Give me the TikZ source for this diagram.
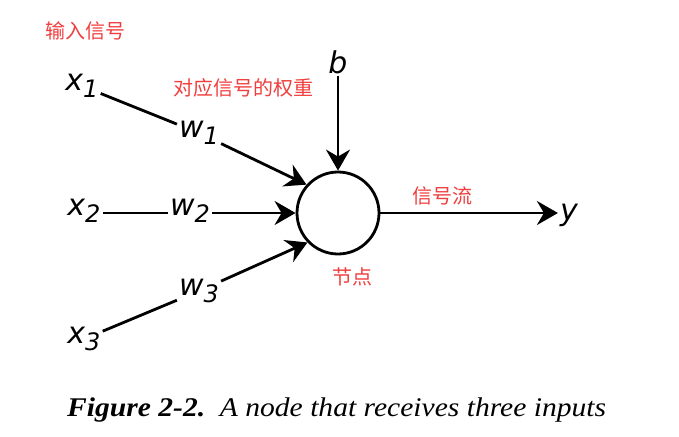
\documentclass[tikz,border=0pt]{standalone}
\usepackage{fontspec}
\setmainfont{Liberation Serif}
\newfontfamily\labfont{DejaVu Sans}
\newfontfamily\cjk{Noto Sans CJK SC}
\usetikzlibrary{arrows.meta}
\definecolor{notered}{RGB}{240,62,62}
\newcommand\lsub[2]{#1\raisebox{-7pt}{\fontsize{24}{26}\selectfont #2}}
\tikzset{
  lab/.style={font=\labfont\itshape\fontsize{30}{32}\selectfont, inner sep=2pt},
  note/.style={font=\cjk\fontsize{20}{22}\selectfont, text=notered, inner sep=0pt},
  conn/.style={line width=2.8pt},
  arr/.style={conn, -{Stealth[length=21pt,width=24pt,inset=7pt]}},
}
\begin{document}
\begin{tikzpicture}[x=1pt,y=-1pt]
\useasboundingbox (0,0) rectangle (679,436);
\node[circle, draw, line width=2.8pt, minimum size=82pt, inner sep=0pt] (c) at (338,213) {};
\node[lab] (x1) at (82,86) {\lsub{x}{1}};
\node[lab] (x2) at (84,211) {\lsub{x}{2}};
\node[lab] (x3) at (84,339) {\lsub{x}{3}};
\node[lab] (w1) at (199,133) {\lsub{w}{1}};
\node[lab] (w2) at (190,211) {\lsub{w}{2}};
\node[lab] (w3) at (199,291) {\lsub{w}{3}};
\node[lab] (b) at (338,62) {b};
\node[lab] (y) at (569,215) {y};
\draw[conn] (x1) -- (w1);
\draw[conn] (x2.east |- c.west) -- (w2.west |- c.west);
\draw[conn] (x3) -- (w3);
\draw[arr] (w1) -- (c.138);
\draw[arr] (w2.east |- c.west) -- (c.west);
\draw[arr] (w3) -- (c.224);
\draw[arr] (b) -- (c.north);
\draw[arr] (c.east) -- (y.west |- c.east);
\node[note] (n1) at (85,31) {输入信号};
\node[note] (n2) at (243,88) {对应信号的权重};
\node[note] (n3) at (442,196) {信号流};
\node[note] (n4) at (352,277) {节点};
\node[anchor=base west, font=\fontsize{27}{30}\selectfont, inner sep=0pt] (cap) at (67,416) {\scalebox{1.095}[1]{\textbf{\textit{Figure 2-2.}}\hspace{0.5em}\textit{A node that receives three inputs}}};
\end{tikzpicture}
\end{document}
